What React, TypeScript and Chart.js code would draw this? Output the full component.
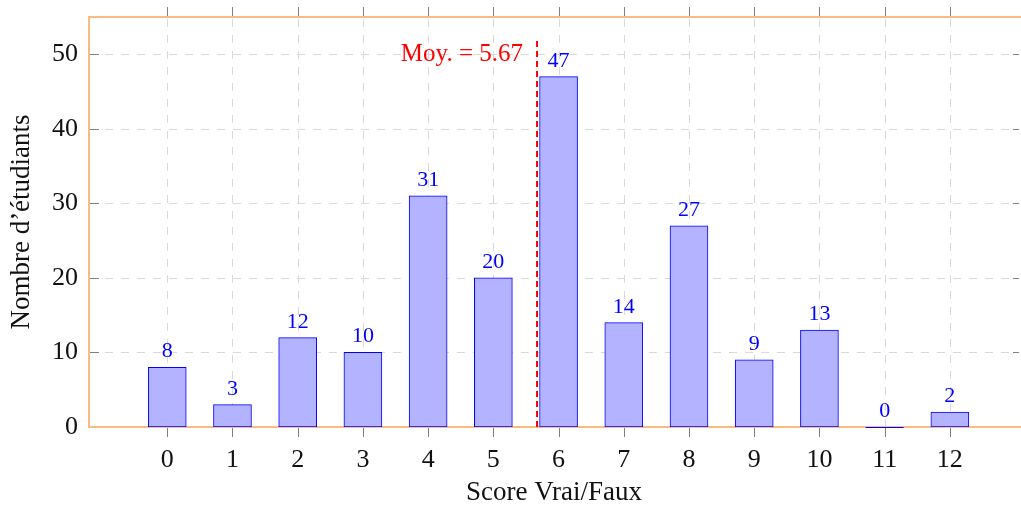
import React, { useEffect, useRef } from "react";
import { Chart, registerables } from "chart.js";

Chart.register(...registerables);

const categories = [0, 1, 2, 3, 4, 5, 6, 7, 8, 9, 10, 11, 12];
const counts = [8, 3, 12, 10, 31, 20, 47, 14, 27, 9, 13, 0, 2];
const yTickValues = [0, 10, 20, 30, 40, 50];
const meanScore = 5.67;
const meanLabel = "Moy. = 5.67";
const xTitle = "Score Vrai/Faux";
const yTitle = "Nombre d’étudiants";

const FONT = "'Liberation Serif', 'DejaVu Serif', serif";
const AXIS_COLOR = "#f8bb80";
const GRID_COLOR = "#d9d9d9";
const TICK_COLOR = "#808080";
const BLUE = "#0000ff";

const decorPlugin = {
  id: "decor",
  beforeDatasetsDraw(chart: any) {
    const { ctx, chartArea, scales } = chart;
    const { left, right, top, bottom } = chartArea;
    const xs = scales.x;
    const ys = scales.y;
    ctx.save();
    ctx.strokeStyle = GRID_COLOR;
    ctx.lineWidth = 1;
    ctx.setLineDash([8, 8]);
    categories.forEach((c) => {
      const px = Math.round(xs.getPixelForValue(c)) + 0.5;
      ctx.beginPath();
      ctx.moveTo(px, bottom);
      ctx.lineTo(px, top);
      ctx.stroke();
    });
    yTickValues.forEach((v) => {
      if (v === 0) return;
      const py = Math.round(ys.getPixelForValue(v)) + 0.5;
      ctx.beginPath();
      ctx.moveTo(left, py);
      ctx.lineTo(right, py);
      ctx.stroke();
    });
    ctx.setLineDash([]);
    ctx.strokeStyle = TICK_COLOR;
    categories.forEach((c) => {
      const px = Math.round(xs.getPixelForValue(c)) + 0.5;
      ctx.beginPath();
      ctx.moveTo(px, bottom);
      ctx.lineTo(px, bottom + 10);
      ctx.moveTo(px, top);
      ctx.lineTo(px, top - 10);
      ctx.stroke();
    });
    yTickValues.forEach((v) => {
      const py = Math.round(ys.getPixelForValue(v)) + 0.5;
      ctx.beginPath();
      ctx.moveTo(left, py);
      ctx.lineTo(left + 10, py);
      ctx.moveTo(right, py);
      ctx.lineTo(right - 6, py);
      ctx.stroke();
    });
    ctx.strokeStyle = AXIS_COLOR;
    ctx.lineWidth = 2;
    ctx.beginPath();
    ctx.moveTo(right + 2, top);
    ctx.lineTo(left, top);
    ctx.lineTo(left, bottom);
    ctx.lineTo(right + 2, bottom);
    ctx.stroke();
    ctx.restore();
  },
  afterDatasetsDraw(chart: any) {
    const { ctx, scales } = chart;
    const xs = scales.x;
    const ys = scales.y;
    ctx.save();
    ctx.strokeStyle = BLUE;
    ctx.lineWidth = 1;
    categories.forEach((c, i) => {
      if (counts[i] === 0) {
        const px = xs.getPixelForValue(c);
        const py = Math.round(ys.getPixelForValue(0)) + 0.5;
        ctx.beginPath();
        ctx.moveTo(px - 19, py);
        ctx.lineTo(px + 19, py);
        ctx.stroke();
      }
    });
    ctx.fillStyle = BLUE;
    ctx.font = `22px ${FONT}`;
    ctx.textAlign = "center";
    ctx.textBaseline = "alphabetic";
    categories.forEach((c, i) => {
      const px = xs.getPixelForValue(c);
      const py = ys.getPixelForValue(counts[i]);
      ctx.fillText(String(counts[i]), px, py - 10);
    });
    const mx = xs.getPixelForValue(meanScore);
    ctx.strokeStyle = "#ff0000";
    ctx.lineWidth = 2;
    ctx.setLineDash([6, 4]);
    ctx.beginPath();
    ctx.moveTo(mx, ys.getPixelForValue(0));
    ctx.lineTo(mx, ys.getPixelForValue(52));
    ctx.stroke();
    ctx.setLineDash([]);
    ctx.fillStyle = "#ff0000";
    ctx.font = `25px ${FONT}`;
    ctx.textAlign = "right";
    ctx.fillText(meanLabel, mx - 14, ys.getPixelForValue(52) + 22);
    ctx.restore();
  },
};

export default function App() {
  const ref = useRef<HTMLCanvasElement | null>(null);
  useEffect(() => {
    if (!ref.current) return;
    const chart = new Chart(ref.current, {
      type: "bar",
      data: {
        datasets: [
          {
            data: categories.map((c, i) => ({ x: c, y: counts[i] })),
            backgroundColor: "rgb(179,179,255)",
            borderColor: BLUE,
            borderWidth: 1,
            borderSkipped: false,
            barThickness: 38,
          } as any,
        ],
      },
      options: {
        responsive: false,
        animation: false,
        layout: { padding: { top: 17, right: 2, left: 0, bottom: 0 } },
        plugins: { legend: { display: false }, tooltip: { enabled: false } },
        scales: {
          x: {
            type: "linear",
            min: -1.2,
            max: 13.06,
            offset: false,
            grid: { display: false, drawTicks: false },
            border: { display: false },
            ticks: {
              color: "#111",
              font: { family: FONT, size: 26 },
              padding: 18,
              maxRotation: 0,
              autoSkip: false,
              callback: (v: any) => String(v),
            },
            afterBuildTicks: (s: any) => {
              s.ticks = categories.map((v) => ({ value: v }));
            },
            afterFit: (s: any) => {
              s.height = 85;
              s.paddingLeft = 0;
              s.paddingRight = 0;
            },
            title: {
              display: true,
              text: xTitle,
              color: "#111",
              font: { family: FONT, size: 27 },
              padding: { top: 0, bottom: 3 },
            },
          },
          y: {
            min: 0,
            max: 55,
            grid: { display: false, drawTicks: false },
            border: { display: false },
            ticks: {
              color: "#111",
              font: { family: FONT, size: 26 },
              padding: 11,
              callback: (v: any) => String(v),
            },
            afterBuildTicks: (s: any) => {
              s.ticks = yTickValues.map((v) => ({ value: v }));
            },
            afterFit: (s: any) => {
              s.width = 89;
              s.paddingTop = 0;
              s.paddingBottom = 0;
            },
            title: {
              display: true,
              text: yTitle,
              color: "#111",
              font: { family: FONT, size: 27 },
              padding: { top: 6, bottom: 0 },
            },
          },
        },
      } as any,
      plugins: [decorPlugin],
    });
    return () => chart.destroy();
  }, []);
  return (
    <div style={{ position: "fixed", left: 0, top: 0, width: 1021, height: 512, background: "#fff" }}>
      <canvas ref={ref} width={1021} height={512} style={{ display: "block" }} />
    </div>
  );
}
